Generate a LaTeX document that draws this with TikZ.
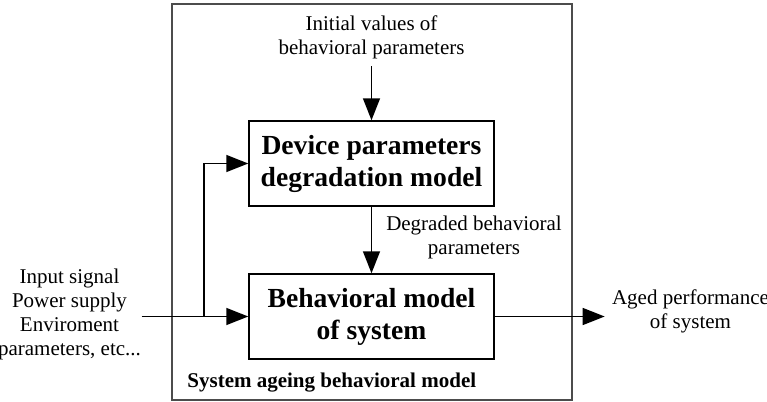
\documentclass[tikz,border=0pt]{standalone}
\usepackage{fontspec}
\setmainfont{Liberation Serif}
\usetikzlibrary{arrows.meta}
\begin{document}
\begin{tikzpicture}[x=0.5pt,y=-0.5pt,line width=0.75pt,
  >={Triangle[length=11pt,width=8.5pt]},
  txt/.style={align=center,font=\fontsize{10.5}{12}\selectfont},
  modelbox/.style={draw,rectangle,align=center,minimum width=122.5pt,minimum height=42.5pt,
    font=\fontsize{13.8}{16}\selectfont\bfseries}]
\useasboundingbox (0,0) rectangle (767,402);
\draw[gray!60!black,line width=0.6pt] (172,4) rectangle (572,400);
\node[txt] (init) at (371.5,37) {Initial values of\\behavioral parameters};
\node[modelbox] (degr) at (371.5,163.5) {Device parameters\\degradation model};
\node[modelbox] (behav) at (371.5,316.5) {Behavioral model\\of system};
\node[txt] (degrlabel) at (474,237) {Degraded behavioral\\parameters};
\node[txt,inner sep=0pt] (input) at (69.5,314) {Input signal\\Power supply\\Enviroment\\parameters, etc...};
\node[txt] (aged) at (690.5,311) {Aged performance\\of system};
\node[txt,font=\fontsize{10.5}{12}\selectfont\bfseries,anchor=west] (title) at (180,383) {System ageing behavioral model};
\coordinate (branch) at (204,316.5);
\draw[->] (init) -- (degr);
\draw[->] (degr) -- (behav);
\draw[->] (input.east |- behav) -- (behav);
\draw[->] (branch) |- (degr);
\draw[->] (behav) -- (aged.west |- behav);
\end{tikzpicture}
\end{document}
